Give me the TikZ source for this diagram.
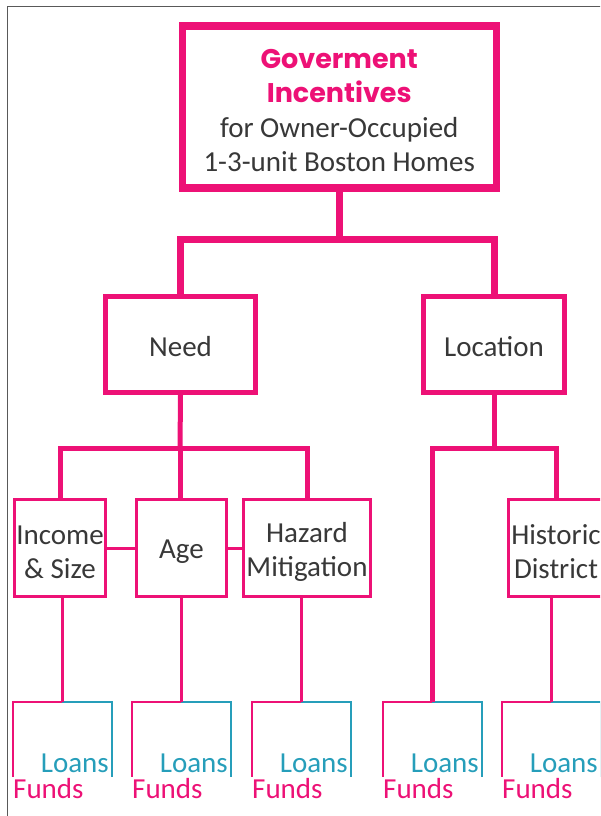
\documentclass[tikz,border=0pt]{standalone}
\usepackage{fontspec}
\setmainfont{Carlito}
\newfontfamily\headfont{Poppins}
\usepackage{tikz}
\usetikzlibrary{calc}
\usetikzlibrary{positioning}

\definecolor{govpink}{RGB}{237,17,118}
\definecolor{govteal}{RGB}{38,158,186}
\definecolor{govtext}{RGB}{56,56,56}
\newcommand{\dn}[2][4pt]{\raisebox{-#1}[\height][\depth]{#2}}
\newcommand{\govhead}[1]{\dn{\textcolor{govpink}{\headfont\bfseries\fontsize{27}{33}\selectfont #1}}}

\begin{document}
\begin{tikzpicture}[x=1pt,y=-1pt,font=\fontsize{29}{34}\selectfont,text=govtext,
  topbox/.style={draw=govpink,line width=7.5pt,minimum width=314pt,minimum height=162pt,align=center,inner sep=0pt},
  midbox/.style={draw=govpink,line width=5pt,minimum width=150pt,minimum height=96pt,inner sep=0pt},
  leafbox/.style={draw=govpink,line width=3pt,minimum height=97pt,align=center,inner sep=0pt},
  linkA/.style={draw=govpink,line width=7pt},
  linkB/.style={draw=govpink,line width=5pt},
  linkC/.style={draw=govpink,line width=3pt},
  fundline/.style={draw=govpink,line width=2.5pt},
  loanline/.style={draw=govteal,line width=2.5pt},
  fundtext/.style={text=govpink,inner sep=0pt,anchor=base west},
  loantext/.style={text=govteal,inner sep=0pt,anchor=base east}]
\useasboundingbox (0,0) rectangle (600,816);
\clip (0,0) rectangle (600,816);
\draw[black!65,line width=1pt] (7,830) -- (7,7) -- (610,7);
% boxes
\node[topbox] (top) at (339.25,107) {\govhead{Goverment}\\\govhead{Incentives}\\[1pt]\dn{for Owner-Occupied}\\\dn{1-3-unit Boston Homes}};
\node[midbox] (need) at (180.5,344.5) {\dn[2pt]{Need}};
\node[midbox,minimum width=141pt] (loc) at (494,344.5) {\dn[2pt]{Location}};
\node[leafbox,minimum width=91pt] (inc) at (60,548) {\dn{Income}\\\dn{\& Size}};
\node[leafbox,minimum width=90pt] (age) at (181.5,548) {\dn{Age}};
\node[leafbox,minimum width=127pt] (haz) at (307,548) {\dn{Hazard}\\\dn{Mitigation}};
\node[leafbox,minimum width=95pt] (his) at (556,548) {\dn{Historic}\\\dn{District}};
% funds / loans brackets
\foreach \nm/\cx in {inc/62,age/181,haz/301,loc/432,his/551}{
  \coordinate (\nm hub) at (\cx,702);
  \coordinate (\nm fund) at (\cx-49,777);
  \coordinate (\nm loan) at (\cx+50,777);
  \draw[fundline] (\nm hub) -| (\nm fund);
  \draw[loanline] (\nm hub) -| (\nm loan);
  \node[fundtext] (\nm F) at (\cx-49,798) {Funds};
  \node[loantext] (\nm L) at (\cx+47,772) {Loans};
}
\foreach \nm in {inc,age,haz,his}
  \draw[linkC] (\nm hub |- \nm.south) -- (\nm hub);
% top level
\coordinate (barA) at (339.25,239);
\draw[linkA] (top.south) -- (barA);
\draw[linkA] (need.north) |- (barA) -| (loc.north);
% need level
\coordinate (barB) at (180,448);
\draw[linkB] (need.south) -- (barB);
\draw[linkB] (inc.north) |- (barB) -| (haz.north);
\draw[linkB] (barB) -- (barB |- age.north);
\draw[linkC] (inc.east) -- (age.west);
\draw[linkC] (age.east) -- (haz.west);
% location level
\coordinate (barC) at (494,448);
\draw[linkB] (loc.south) -- (barC);
\draw[linkB] (lochub) |- (barC) -| (his.north);
\end{tikzpicture}
\end{document}
